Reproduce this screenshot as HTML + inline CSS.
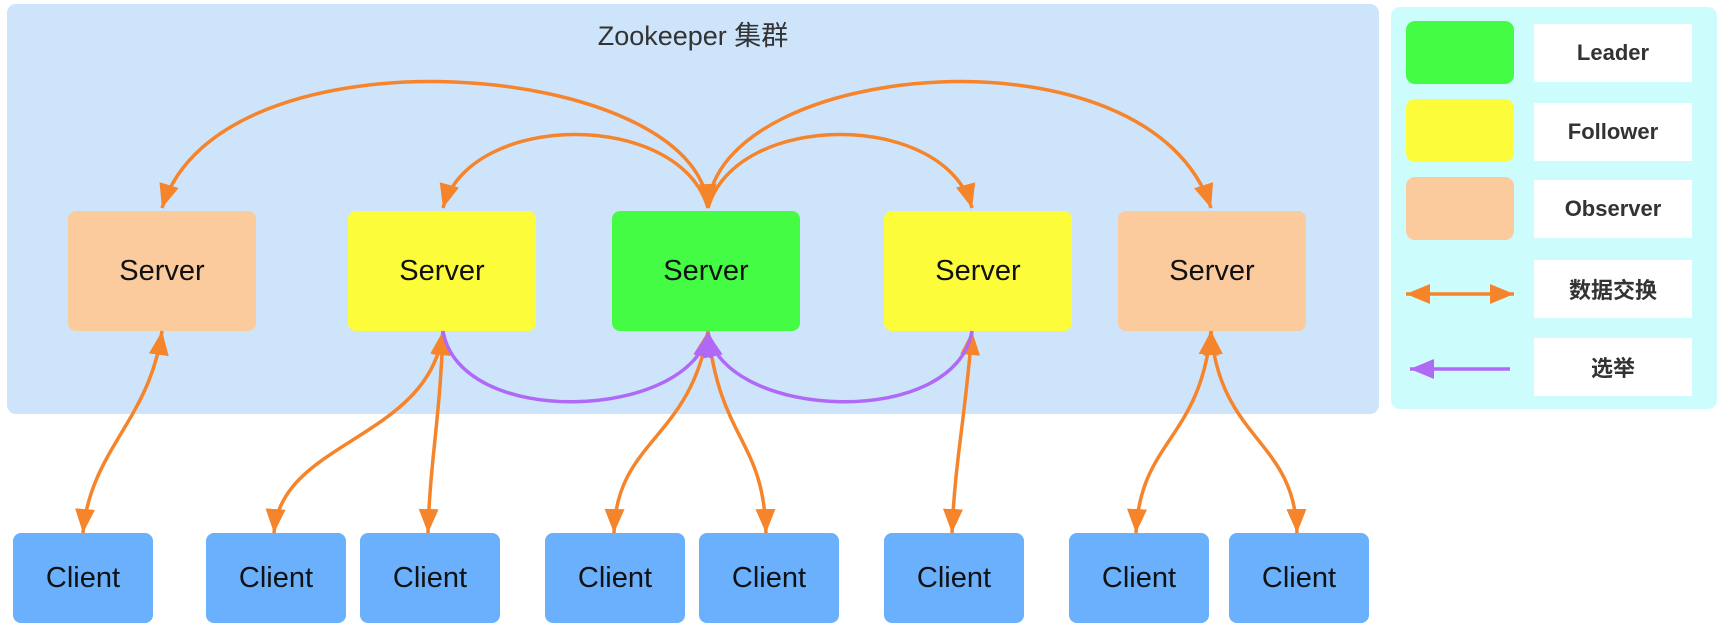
<!DOCTYPE html>
<html><head><meta charset="utf-8"><style>
body{margin:0;width:1720px;height:628px;background:#fff;position:relative;overflow:hidden;font-family:"Liberation Sans","Noto Sans CJK SC",sans-serif}
.a{position:absolute;box-sizing:border-box}
.srv{top:211px;width:188px;height:120px;border-radius:8px;display:flex;align-items:center;justify-content:center;font-size:29px;color:#111}
.cl{top:533px;width:140px;height:90px;border-radius:8px;background:#6ab0fc;display:flex;align-items:center;justify-content:center;font-size:29px;color:#111}
.sw{left:1406px;width:108px;height:63px;border-radius:9px}
.lb{left:1534px;width:158px;height:58px;background:#fff;display:flex;align-items:center;justify-content:center;font-size:22px;font-weight:bold;color:#333}
</style></head><body>
<div class="a" style="left:7px;top:4px;width:1372px;height:410px;background:#cee4fb;border-radius:9px"></div>
<div class="a" style="left:1391px;top:7px;width:326px;height:402px;background:#cdfcfc;border-radius:9px"></div>
<div class="a" style="left:520px;top:14px;width:346px;text-align:center;font-size:27px;color:#333">Zookeeper 集群</div>

<div class="a srv" style="left:68px;background:#fbcb9e">Server</div>
<div class="a srv" style="left:348px;background:#fcfc3a">Server</div>
<div class="a srv" style="left:612px;background:#45fc45">Server</div>
<div class="a srv" style="left:884px;background:#fcfc3a">Server</div>
<div class="a srv" style="left:1118px;background:#fbcb9e">Server</div>

<div class="a cl" style="left:13px">Client</div>
<div class="a cl" style="left:206px">Client</div>
<div class="a cl" style="left:360px">Client</div>
<div class="a cl" style="left:545px">Client</div>
<div class="a cl" style="left:699px">Client</div>
<div class="a cl" style="left:884px">Client</div>
<div class="a cl" style="left:1069px">Client</div>
<div class="a cl" style="left:1229px">Client</div>

<div class="a sw" style="top:21px;background:#45fc45"></div>
<div class="a sw" style="top:99px;background:#fcfc3a"></div>
<div class="a sw" style="top:177px;background:#fbcb9e"></div>
<div class="a lb" style="top:24px">Leader</div>
<div class="a lb" style="top:103px">Follower</div>
<div class="a lb" style="top:180px">Observer</div>
<div class="a lb" style="top:260px">数据交换</div>
<div class="a lb" style="top:338px">选举</div>

<svg class="a" style="left:0;top:0" width="1720" height="628">
<defs>
<marker id="o" markerUnits="userSpaceOnUse" markerWidth="26" markerHeight="22" refX="24" refY="11" orient="auto-start-reverse"><path d="M0,1 L24,11 L0,21 z" fill="#f5842a"/></marker>
<marker id="p" markerUnits="userSpaceOnUse" markerWidth="26" markerHeight="22" refX="24" refY="11" orient="auto-start-reverse"><path d="M0,1 L24,11 L0,21 z" fill="#b069f7"/></marker>
</defs>
<g fill="none" stroke="#f5842a" stroke-width="3.5">
<path d="M708 208 C700 60 220 20 162 208" marker-start="url(#o)" marker-end="url(#o)"/>
<path d="M708 208 C680 110 470 110 443 208" marker-end="url(#o)"/>
<path d="M708 208 C736 110 945 110 972 208" marker-end="url(#o)"/>
<path d="M708 208 C716 60 1150 20 1211 208" marker-end="url(#o)"/>
<path d="M162 331 C150 420 90 450 83 533" marker-start="url(#o)" marker-end="url(#o)"/>
<path d="M443 331 C430 440 280 440 274 533" marker-start="url(#o)" marker-end="url(#o)"/>
<path d="M443 331 C440 420 430 460 428 533" marker-start="url(#o)" marker-end="url(#o)"/>
<path d="M708 331 C690 440 616 440 614 533" marker-start="url(#o)" marker-end="url(#o)"/>
<path d="M708 331 C720 440 764 440 766 533" marker-start="url(#o)" marker-end="url(#o)"/>
<path d="M972 331 C965 420 955 460 952 533" marker-start="url(#o)" marker-end="url(#o)"/>
<path d="M1211 331 C1200 440 1140 440 1136 533" marker-start="url(#o)" marker-end="url(#o)"/>
<path d="M1211 331 C1220 440 1295 440 1297 533" marker-start="url(#o)" marker-end="url(#o)"/>
<path d="M1406 294 L1514 294" marker-start="url(#o)" marker-end="url(#o)"/>
</g>
<g fill="none" stroke="#b069f7" stroke-width="3.5">
<path d="M443 331 C460 430 690 420 708 333" marker-end="url(#p)"/>
<path d="M972 331 C955 430 726 420 708 333" marker-end="url(#p)"/>
<path d="M1510 369 L1410 369" marker-end="url(#p)"/>
</g>
</svg>
</body></html>
